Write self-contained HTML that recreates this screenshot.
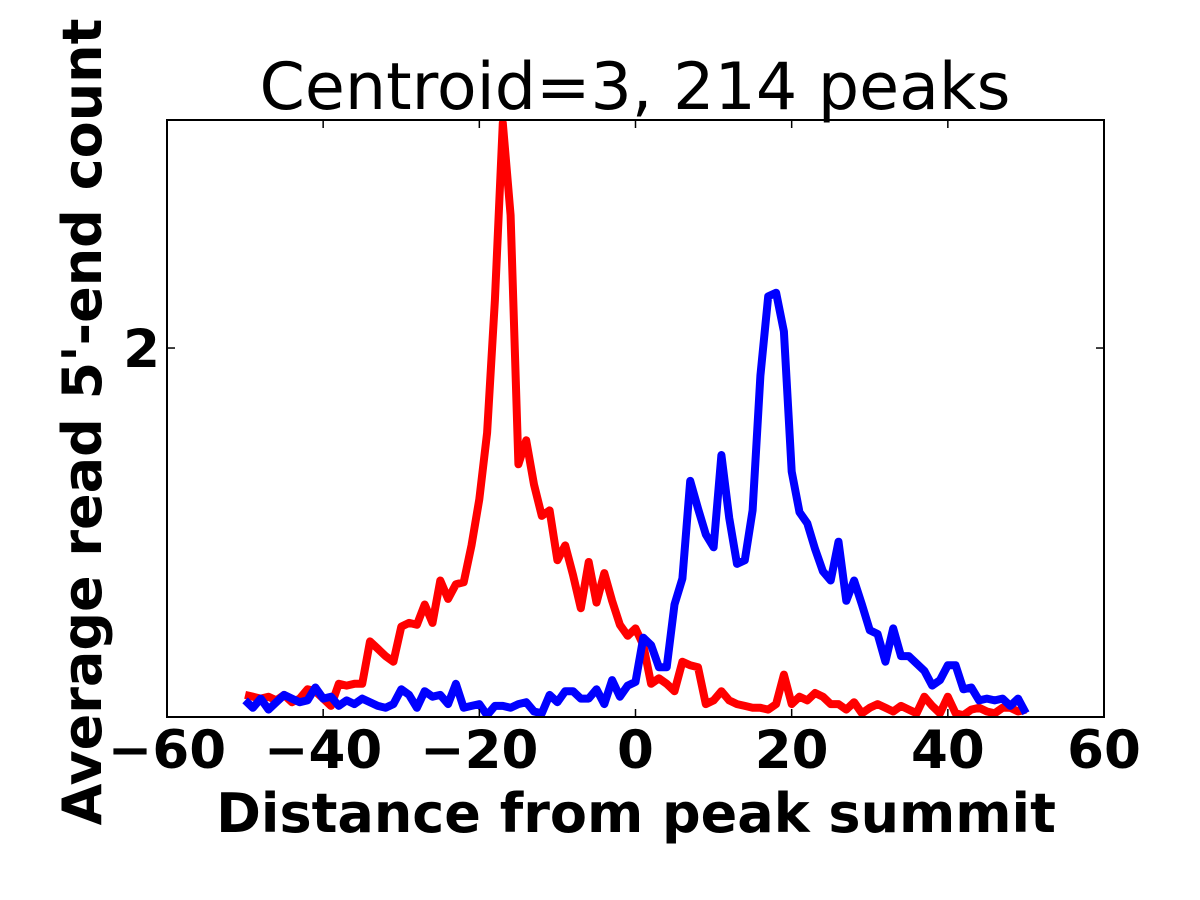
<!DOCTYPE html>
<html><head><meta charset="utf-8"><style>
html,body{margin:0;padding:0;background:#fff;}
svg{display:block;font-family:"DejaVu Sans","Liberation Sans",sans-serif;}
</style></head><body>
<svg id="chart" width="1200" height="900" viewBox="0 0 1200 900">
<text x="635" y="109" font-size="65" text-anchor="middle">Centroid=3, 214 peaks</text>
<g id="plot"></g>
<rect x="167" y="120" width="937" height="597" fill="none" stroke="#000" stroke-width="2"/>
<g id="ticks"></g>
<text x="636" y="832" font-size="54" font-weight="bold" text-anchor="middle">Distance from peak summit</text>
<text transform="translate(101,422) rotate(-90)" font-size="54" font-weight="bold" text-anchor="middle">Average read 5'-end count</text>
</svg>
<script>
const xTicks=[-60,-40,-20,0,20,40,60];
const yTicks=[2];
const distances=[];for(let d=-50;d<=50;d++)distances.push(d);
const redValues=[.12,.11,.10,.11,.09,.12,.08,.10,.15,.14,
.10,.06,.18,.17,.18,.18,.41,.37,.33,.30,
.49,.51,.50,.61,.51,.74,.64,.72,.73,.93,
1.18,1.54,2.26,3.22,2.72,1.37,1.50,1.26,1.09,1.12,
.85,.93,.77,.59,.84,.62,.78,.63,.50,.44,
.48,.39,.18,.21,.18,.14,.30,.28,.27,.07,
.09,.14,.09,.07,.06,.05,.05,.04,.07,.23,
.07,.11,.09,.13,.11,.07,.07,.04,.08,.02,
.05,.07,.05,.03,.06,.04,.02,.11,.06,.02,
.11,.02,.01,.04,.05,.03,.02,.05,.05,.03,.04];
const blueValues=[.09,.05,.10,.04,.08,.12,.10,.08,.09,.16,
.10,.11,.06,.09,.07,.10,.08,.06,.05,.07,
.15,.12,.05,.14,.11,.12,.07,.18,.05,.06,
.07,.01,.06,.06,.05,.07,.08,.03,.02,.12,
.08,.14,.14,.10,.10,.15,.07,.20,.11,.17,
.19,.43,.39,.27,.27,.61,.75,1.28,1.13,.99,
.92,1.42,1.08,.83,.85,1.12,1.85,2.28,2.30,2.09,
1.33,1.11,1.05,.91,.79,.74,.95,.63,.74,.61,
.47,.45,.30,.48,.33,.33,.29,.25,.17,.20,
.28,.28,.15,.16,.09,.10,.09,.10,.06,.10,.02];
const NS='http://www.w3.org/2000/svg';
const L=167,R=1104,T=120,B=717,XMIN=-60,XMAX=60,YMIN=0,YMAX=3.236;
const xs=v=>L+(v-XMIN)/(XMAX-XMIN)*(R-L);
const ys=v=>B-(v-YMIN)/(YMAX-YMIN)*(B-T);
const plot=document.getElementById('plot');
const clip=document.createElementNS(NS,'clipPath');clip.setAttribute('id','cp');
const cr=document.createElementNS(NS,'rect');cr.setAttribute('x',L);cr.setAttribute('y',T-4);cr.setAttribute('width',R-L);cr.setAttribute('height',B-T+4);
clip.appendChild(cr);plot.appendChild(clip);
function line(vals,color,name){
  const p=document.createElementNS(NS,'polyline');
  p.setAttribute('points',vals.map((v,i)=>xs(distances[i]).toFixed(1)+','+ys(v).toFixed(1)).join(' '));
  p.setAttribute('fill','none');p.setAttribute('stroke',color);p.setAttribute('stroke-width','8');
  p.setAttribute('stroke-linejoin','round');p.setAttribute('clip-path','url(#cp)');
  
  
  plot.appendChild(p);
}
line(redValues,'#ff0000','red-series-line');
line(blueValues,'#0000ff','blue-series-line');
const tk=document.getElementById('ticks');
function el(tag,attrs,txt){const e=document.createElementNS(NS,tag);for(const k in attrs)e.setAttribute(k,attrs[k]);if(txt!==undefined)e.textContent=txt;tk.appendChild(e);return e;}
xTicks.forEach(v=>{
  const x=xs(v);
  const t1=el('line',{x1:x,x2:x,y1:B,y2:B-8,stroke:'#000','stroke-width':1.5});
  
  
  const t2=el('line',{x1:x,x2:x,y1:T,y2:T+8,stroke:'#000','stroke-width':1.5});
  
  
  const lb=el('text',{x:x,y:768,'font-size':53,'font-weight':'bold','text-anchor':'middle'},String(v).replace('-','\u2212'));
  
  
});
yTicks.forEach(v=>{
  const y=ys(v);
  const t1=el('line',{x1:L,x2:L+8,y1:y,y2:y,stroke:'#000','stroke-width':1.5});
  
  
  const t2=el('line',{x1:R,x2:R-8,y1:y,y2:y,stroke:'#000','stroke-width':1.5});
  
  
  const lb=el('text',{x:160,y:y+19,'font-size':53,'font-weight':'bold','text-anchor':'end'},String(v));
  
  
});
</script>
</body></html>
